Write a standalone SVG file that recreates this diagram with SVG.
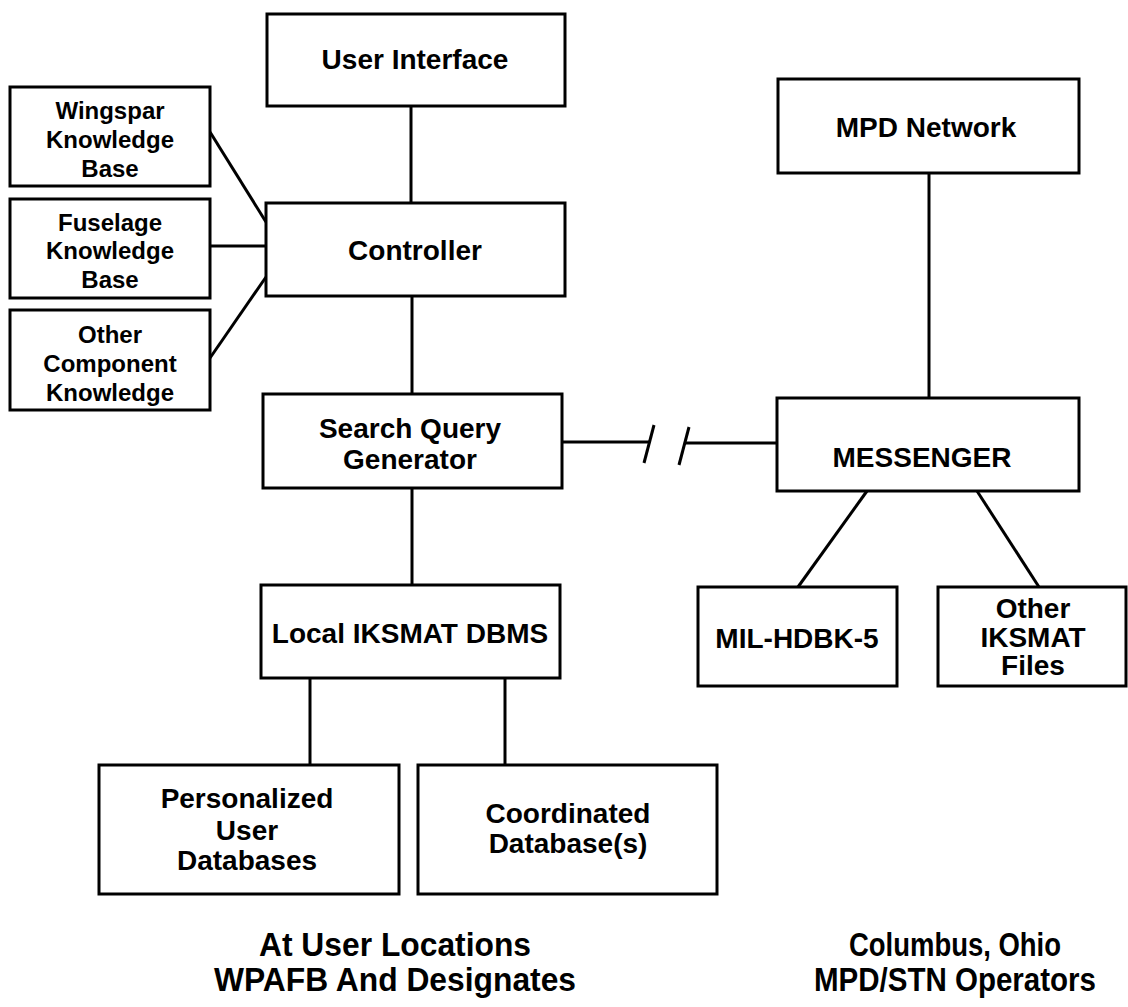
<svg xmlns="http://www.w3.org/2000/svg" width="1128" height="1007" viewBox="0 0 1128 1007">
<style>
.box{fill:#fff;stroke:#000;stroke-width:3}
.ln{stroke:#000;stroke-width:3;fill:none}
.t{font-family:"Liberation Sans",Arial,sans-serif;font-weight:bold;font-size:28px;text-anchor:middle;fill:#000}
.s{font-size:24px}
.b{font-size:33px}
</style>
<rect width="1128" height="1007" fill="#fff"/>
<g id="connectors">
<line class="ln" x1="411" y1="106" x2="411" y2="203"/>
<line class="ln" x1="412" y1="296" x2="412" y2="394"/>
<line class="ln" x1="412" y1="488" x2="412" y2="585"/>
<line class="ln" x1="210" y1="132" x2="266" y2="222"/>
<line class="ln" x1="210" y1="246" x2="266" y2="246"/>
<line class="ln" x1="210" y1="358" x2="266" y2="277"/>
<line class="ln" x1="310" y1="678" x2="310" y2="765"/>
<line class="ln" x1="505" y1="678" x2="505" y2="765"/>
<line class="ln" x1="929" y1="173" x2="929" y2="398"/>
<line class="ln" x1="867" y1="491" x2="798" y2="587"/>
<line class="ln" x1="977" y1="491" x2="1039" y2="587"/>
<line class="ln" x1="562" y1="442" x2="650" y2="442"/>
<line class="ln" x1="654" y1="425" x2="644" y2="463"/>
<line class="ln" x1="689" y1="427" x2="679" y2="465"/>
<line class="ln" x1="684" y1="443" x2="777" y2="443"/>
</g>
<g id="user-interface"><rect class="box" x="267" y="14" width="298" height="92"/><text class="t" x="415" y="69">User Interface</text></g>
<g id="wingspar"><rect class="box" x="10" y="87" width="200" height="99"/><text class="t s" x="110" y="119">Wingspar</text><text class="t s" x="110" y="148">Knowledge</text><text class="t s" x="110" y="177">Base</text></g>
<g id="fuselage"><rect class="box" x="10" y="199" width="200" height="99"/><text class="t s" x="110" y="231">Fuselage</text><text class="t s" x="110" y="259">Knowledge</text><text class="t s" x="110" y="288">Base</text></g>
<g id="other-component"><rect class="box" x="10" y="310" width="200" height="100"/><text class="t s" x="110" y="343">Other</text><text class="t s" x="110" y="372">Component</text><text class="t s" x="110" y="401">Knowledge</text></g>
<g id="controller"><rect class="box" x="266" y="203" width="299" height="93"/><text class="t" x="415" y="260">Controller</text></g>
<g id="search-query-generator"><rect class="box" x="263" y="394" width="299" height="94"/><text class="t" x="410" y="438">Search Query</text><text class="t" x="410" y="469">Generator</text></g>
<g id="local-dbms"><rect class="box" x="261" y="585" width="299" height="93"/><text class="t" x="410" y="643">Local IKSMAT DBMS</text></g>
<g id="personalized"><rect class="box" x="99" y="765" width="300" height="129"/><text class="t" x="247" y="808">Personalized</text><text class="t" x="247" y="840">User</text><text class="t" x="247" y="870">Databases</text></g>
<g id="coordinated"><rect class="box" x="418" y="765" width="299" height="129"/><text class="t" x="568" y="823">Coordinated</text><text class="t" x="568" y="853">Database(s)</text></g>
<g id="mpd-network"><rect class="box" x="778" y="79" width="301" height="94"/><text class="t" x="926" y="137">MPD Network</text></g>
<g id="messenger"><rect class="box" x="777" y="398" width="302" height="93"/><text class="t" x="922" y="467">MESSENGER</text></g>
<g id="mil-hdbk"><rect class="box" x="698" y="587" width="199" height="99"/><text class="t" x="797" y="648">MIL-HDBK-5</text></g>
<g id="other-iksmat"><rect class="box" x="938" y="587" width="188" height="99"/><text class="t" x="1033" y="618">Other</text><text class="t" x="1033" y="647">IKSMAT</text><text class="t" x="1033" y="675">Files</text></g>
<g id="labels">
<text class="t b" x="395" y="956" textLength="272" lengthAdjust="spacingAndGlyphs">At User Locations</text>
<text class="t b" x="395" y="991" textLength="362" lengthAdjust="spacingAndGlyphs">WPAFB And Designates</text>
<text class="t b" x="955" y="956" textLength="212" lengthAdjust="spacingAndGlyphs">Columbus, Ohio</text>
<text class="t b" x="955" y="991" textLength="282" lengthAdjust="spacingAndGlyphs">MPD/STN Operators</text>
</g>
</svg>
